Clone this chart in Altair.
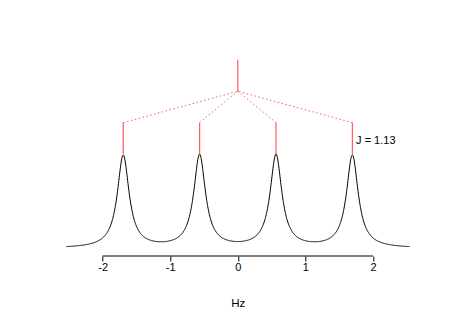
import altair as alt
import pandas as pd

# --- data ---
peaks = [-1.695, -0.565, 0.565, 1.695]      # line positions (Hz)
half_width = 0.105                           # Lorentzian half width (Hz)
x_start, x_stop = -2.54, 2.54                # span of the drawn spectrum
peak_top = 1.02                              # height of the peaks
level_low = 1.36                             # top of the short red stems
level_mid = 1.70                             # branching point of the tree
level_top = 2.04                             # top of the tree
ticks = [-2, -1, 0, 1, 2]
j_label = "J = 1.13"
label_pos = [1.75, 1.165]

FONT = "Liberation Sans"
RED = "#ff5a5a"

xscale = alt.Scale(domain=[-2.7, 2.7], nice=False, zero=False)
yscale = alt.Scale(domain=[-0.082, 2.146], nice=False, zero=False)

expr = " + ".join(
    f"1/(1+pow((datum.x - ({p}))/{half_width},2))" for p in peaks
)

spectrum = (
    alt.Chart(alt.sequence(x_start, x_stop + 0.0001, 0.005, as_="x"))
    .transform_calculate(y=expr)
    .mark_line(color="black", strokeWidth=1)
    .encode(
        x=alt.X("x:Q", scale=xscale,
                axis=alt.Axis(values=ticks, domain=False, grid=False, tickSize=5,
                              tickColor="black", labelColor="black", labelFont=FONT,
                              labelFontSize=11, labelPadding=0, title="Hz",
                              titleFont=FONT, titleFontSize=11.5, titleFontWeight="normal",
                              titleColor="black", titlePadding=25,
                              labelExpr="datum.value < 0 ? '-' + abs(datum.value) : '' + datum.value")),
        y=alt.Y("y:Q", scale=yscale, axis=None),
    )
)

stem_x = peaks + [0.0]
stem_y = [peak_top] * 4 + [level_mid]
stem_y2 = [level_low] * 4 + [level_top]
stems_df = pd.DataFrame({"x": stem_x, "y": stem_y, "y2": stem_y2})
stems = alt.Chart(stems_df).mark_rule(color=RED, strokeWidth=1.2).encode(
    x=alt.X("x:Q", scale=xscale), y=alt.Y("y:Q", scale=yscale), y2="y2:Q"
)

branch_df = pd.DataFrame({"x": peaks, "y": [level_low] * 4,
                          "x2": [0.0] * 4, "y2": [level_mid] * 4})
branches = alt.Chart(branch_df).mark_rule(color=RED, strokeWidth=1, strokeDash=[1.5, 2.5]).encode(
    x=alt.X("x:Q", scale=xscale), y=alt.Y("y:Q", scale=yscale), x2="x2:Q", y2="y2:Q"
)

axis_df = pd.DataFrame({"x": [min(ticks)], "x2": [max(ticks)]})
axis_line = alt.Chart(axis_df).mark_rule(color="black", strokeWidth=1).encode(
    x=alt.X("x:Q", scale=xscale), x2="x2:Q", y=alt.value(206)
)

label_df = pd.DataFrame({"x": [label_pos[0]], "y": [label_pos[1]], "t": [j_label]})
label = alt.Chart(label_df).mark_text(align="left", baseline="middle", font=FONT,
                                      fontSize=11, color="black").encode(
    x=alt.X("x:Q", scale=xscale), y=alt.Y("y:Q", scale=yscale), text="t:N"
)

chart = (
    alt.layer(spectrum, axis_line, stems, branches, label)
    .properties(width=365, height=206, background="white",
                autosize=alt.AutoSizeParams(type="none"),
                padding={"left": 55.3, "top": 50, "right": 29.7, "bottom": 65})
    .configure_view(stroke=None)
)

chart.save("out.html", embed_options={"renderer": "svg", "actions": False})
